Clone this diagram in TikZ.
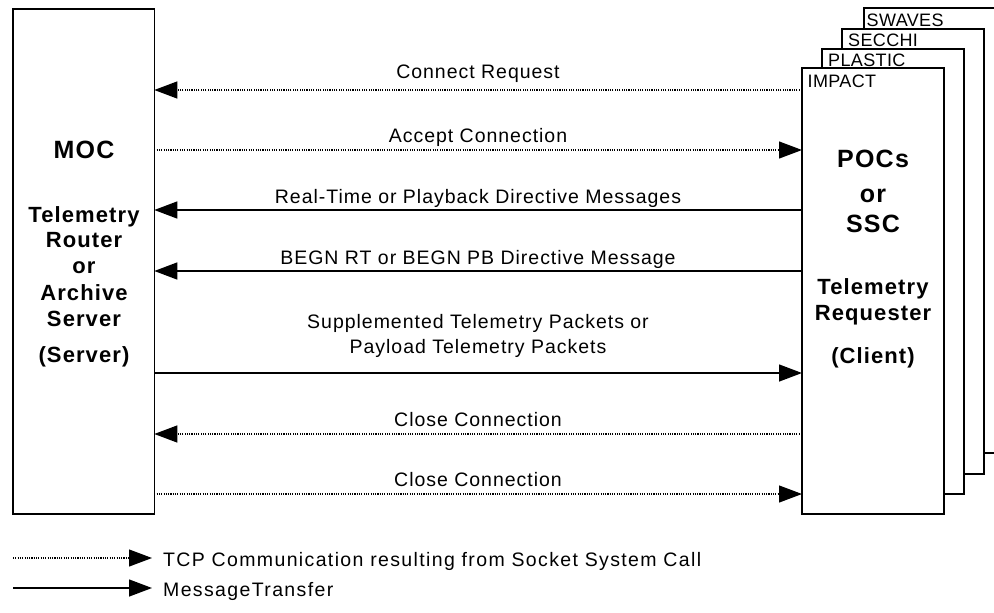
\documentclass[tikz,border=0pt]{standalone}
\usepackage{fontspec}
\setmainfont{Liberation Sans}
\newfontfamily\labfont[LetterSpace=5]{Liberation Sans}
\newfontfamily\legfont[LetterSpace=7]{Liberation Sans}
\newfontfamily\hdfont[LetterSpace=5]{Liberation Sans}
\newfontfamily\tagfont[LetterSpace=2]{Liberation Sans}
\usetikzlibrary{arrows.meta}
\begin{document}
\begin{tikzpicture}[x=1pt,y=-1pt,
  box/.style={draw, line width=1.6pt, fill=white, inner sep=0pt, outer sep=0pt, anchor=north west},
  dotl/.style={line width=1.2pt, dash pattern=on 1.1pt off 1.2pt},
  soll/.style={line width=1.4pt},
  tip/.style={-{Triangle[length=23pt,width=17pt]}},
  lab/.style={anchor=base, inner sep=0pt, font=\labfont\fontsize{19.5}{23}\selectfont},
  big/.style={anchor=base, inner sep=0pt, font=\hdfont\bfseries\fontsize{25}{30}\selectfont},
  mid/.style={anchor=base, inner sep=0pt, font=\hdfont\bfseries\fontsize{22}{26}\selectfont},
  tag/.style={anchor=base west, inner sep=0pt, font=\tagfont\fontsize{18}{20}\selectfont},
  leg/.style={anchor=base west, inner sep=0pt, font=\legfont\fontsize{19.5}{23}\selectfont}]
\useasboundingbox (0,0) rectangle (994,613);
\clip (0,0) rectangle (994,613);

% server box
\node[box, minimum width=141.6pt, minimum height=505pt] (moc) at (12.7,9) {};
% client stack (back to front)
\node[box, minimum width=142pt, minimum height=445pt] (swaves) at (864,8) {};
\node[box, minimum width=142pt, minimum height=445pt] (secchi) at (842,29) {};
\node[box, minimum width=142pt, minimum height=445pt] (plastic) at (822,49) {};
\node[box, minimum width=142pt, minimum height=446pt] (impact) at (802,68) {};

\node[tag] (tswaves) at (866.5,26.7) {SWAVES};
\node[tag] (tsecchi) at (848,46) {SECCHI};
\node[tag] (tplastic) at (828,66) {PLASTIC};
\node[tag] (timpact) at (807.5,87) {IMPACT};

% server text
\node[big] (mocname) at (84,158) {MOC};
\node[mid] (m1) at (84,222) {Telemetry};
\node[mid] (m2) at (84,247) {Router};
\node[mid] (m3) at (84,273) {or};
\node[mid] (m4) at (84,300) {Archive};
\node[mid] (m5) at (84,326) {Server};
\node[mid] (m6) at (84,362) {(Server)};

% client text
\node[big] (c1) at (873,167) {POCs};
\node[big] (c2) at (873,202) {or};
\node[big] (c3) at (873,232) {SSC};
\node[mid] (c4) at (873,294) {Telemetry};
\node[mid] (c5) at (873,320) {Requester};
\node[mid] (c6) at (873,363) {(Client)};

% messages
\draw[dotl,tip] (impact.west |- 0,90) -- (moc.east |- 0,90);
\node[lab] (l1) at (478,78) {Connect Request};

\draw[dotl,tip] (moc.east |- 0,150) -- (impact.west |- 0,150);
\node[lab] (l2) at (478,142) {Accept Connection};

\draw[soll,tip] (impact.west |- 0,210) -- (moc.east |- 0,210);
\node[lab] (l3) at (478,203) {Real-Time or Playback Directive Messages};

\draw[soll,tip] (impact.west |- 0,271) -- (moc.east |- 0,271);
\node[lab] (l4) at (478,264) {BEGN RT or BEGN PB Directive Message};

\draw[soll,tip] (moc.east |- 0,373) -- (impact.west |- 0,373);
\node[lab] (l5a) at (478,328) {Supplemented Telemetry Packets or};
\node[lab] (l5b) at (478,353) {Payload Telemetry Packets};

\draw[dotl,tip] (impact.west |- 0,434) -- (moc.east |- 0,434);
\node[lab] (l6) at (478,426) {Close Connection};

\draw[dotl,tip] (moc.east |- 0,494) -- (impact.west |- 0,494);
\node[lab] (l7) at (478,486) {Close Connection};

% legend
\coordinate (d0) at (13,558);
\coordinate (d1) at (152,558);
\coordinate (s0) at (13,588);
\coordinate (s1) at (152,588);
\draw[dotl,tip] (d0) -- (d1);
\draw[soll,tip] (s0) -- (s1);
\node[leg] (leg1) at (163,566) {TCP Communication resulting from Socket System Call};
\node[leg] (leg2) at (163,596) {MessageTransfer};
\end{tikzpicture}
\end{document}
